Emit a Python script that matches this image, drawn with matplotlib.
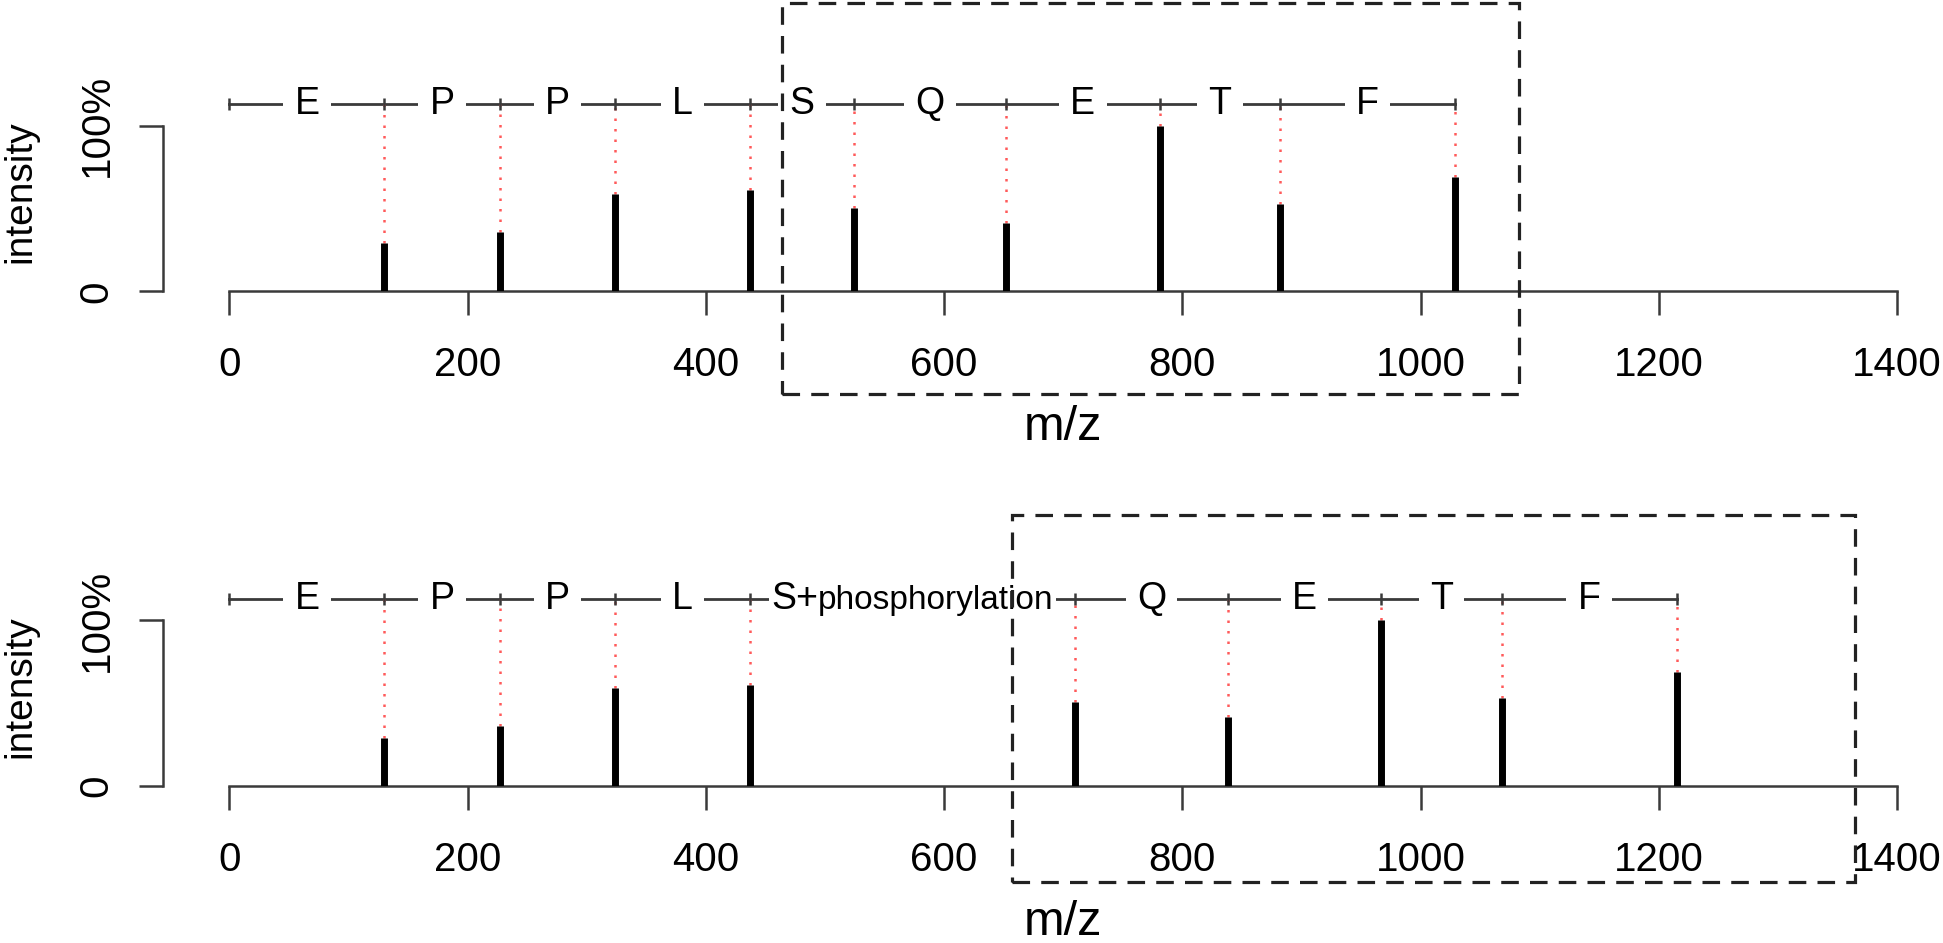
import matplotlib
matplotlib.use("Agg")
import matplotlib.pyplot as plt
from matplotlib.patches import Rectangle
from matplotlib.offsetbox import TextArea, HPacker, AnnotationBbox

plt.rcParams['font.family'] = ['Liberation Sans', 'DejaVu Sans']

# peptide EPPLSQETF, b-ion ladder
residues = ["E", "P", "P", "L", "S", "Q", "E", "T", "F"]
mz_plain = [130, 227, 324, 437, 524, 652, 781, 882, 1029]
mz_phospho = [130, 227, 324, 437, 710, 838, 967, 1068, 1215]
intensity = [0.29, 0.36, 0.59, 0.61, 0.505, 0.415, 1.0, 0.53, 0.69]
mod_name = "phosphorylation"
mod_site = 4
ladder_start = 0
ladder_level = 1.13
x_ticks = [0, 200, 400, 600, 800, 1000, 1200, 1400]
y_ticks = [0, 1]
y_ticklabels = ["0", "100%"]
# dashed highlight boxes: (xmin, xmax, ymin, ymax) in data units
box_plain = (464, 1083, -0.62, 1.74)
box_phospho = (657, 1365, -0.58, 1.64)

axis_col = "#3a3a3a"


def draw_panel(ax, mz, box, mod=None):
    ax.set_xlim(0, 1400)
    ax.set_ylim(0, 1.2)

    # peaks
    ax.vlines(mz, 0, intensity, color="black", lw=5, zorder=3, capstyle="butt")
    # dotted guides up to the ladder
    ax.vlines(mz, intensity, ladder_level, colors="#ff5a5a", lw=1.8,
              linestyles=[(0, (1, 3.2))], zorder=2)

    # fragment ladder
    pos = [ladder_start] + list(mz)
    ax.plot([pos[0], pos[-1]], [ladder_level, ladder_level], color=axis_col,
            lw=2, clip_on=False, zorder=1)
    ax.plot(pos, [ladder_level] * len(pos), ls="none", marker="|", ms=8, mew=1.8,
            color=axis_col, clip_on=False, zorder=5)
    for i, res in enumerate(residues):
        mid = (pos[i] + pos[i + 1]) / 2
        if mod is not None and i == mod_site:
            big = TextArea(res + "+", textprops=dict(size=27))
            small = TextArea(mod, textprops=dict(size=24))
            pack = HPacker(children=[big, small], align="baseline", pad=0, sep=0)
            ab = AnnotationBbox(pack, (mid, ladder_level), frameon=True, pad=0.15,
                                box_alignment=(0.5, 0.5),
                                bboxprops=dict(fc="white", ec="none"),
                                annotation_clip=False, zorder=4)
            ax.add_artist(ab)
        else:
            ax.text(mid, ladder_level, res, size=27, ha="center", va="center",
                    bbox=dict(boxstyle="square,pad=0.3", fc="white", ec="none"),
                    zorder=4, clip_on=False)

    # dashed box
    x0, x1, y0, y1 = box
    ax.add_patch(Rectangle((x0, y0), x1 - x0, y1 - y0, fill=False, ec="#222222",
                           lw=2.3, ls=(0, (5.5, 3.5)), clip_on=False, zorder=6))

    # R-style axes
    for s in ["top", "right"]:
        ax.spines[s].set_visible(False)
    ax.spines["left"].set_position(("outward", 47.5))
    ax.spines["left"].set_bounds(0, 1)
    ax.spines["bottom"].set_bounds(0, 1400)
    for s in ["left", "bottom"]:
        ax.spines[s].set_color(axis_col)
        ax.spines[s].set_linewidth(1.8)
    ax.set_xticks(x_ticks)
    ax.set_yticks(y_ticks)
    ax.set_yticklabels(y_ticklabels, rotation=90, va="center")
    ax.tick_params(length=17.5, width=1.8, color=axis_col, labelsize=29)
    ax.tick_params(axis="x", pad=22)
    ax.tick_params(axis="y", pad=17)
    ax.set_xlabel("m/z", fontsize=35, labelpad=15)
    ax.set_ylabel("intensity", fontsize=28, labelpad=28)


fig = plt.figure(figsize=(19.43, 9.43), dpi=100)
ax_top = fig.add_axes([0.1181, 0.6909, 0.8582, 0.2112])
ax_bot = fig.add_axes([0.1181, 0.1665, 0.8582, 0.2106])

draw_panel(ax_top, mz_plain, box_plain)
draw_panel(ax_bot, mz_phospho, box_phospho, mod=mod_name)

fig.savefig("out.png", dpi=100)
